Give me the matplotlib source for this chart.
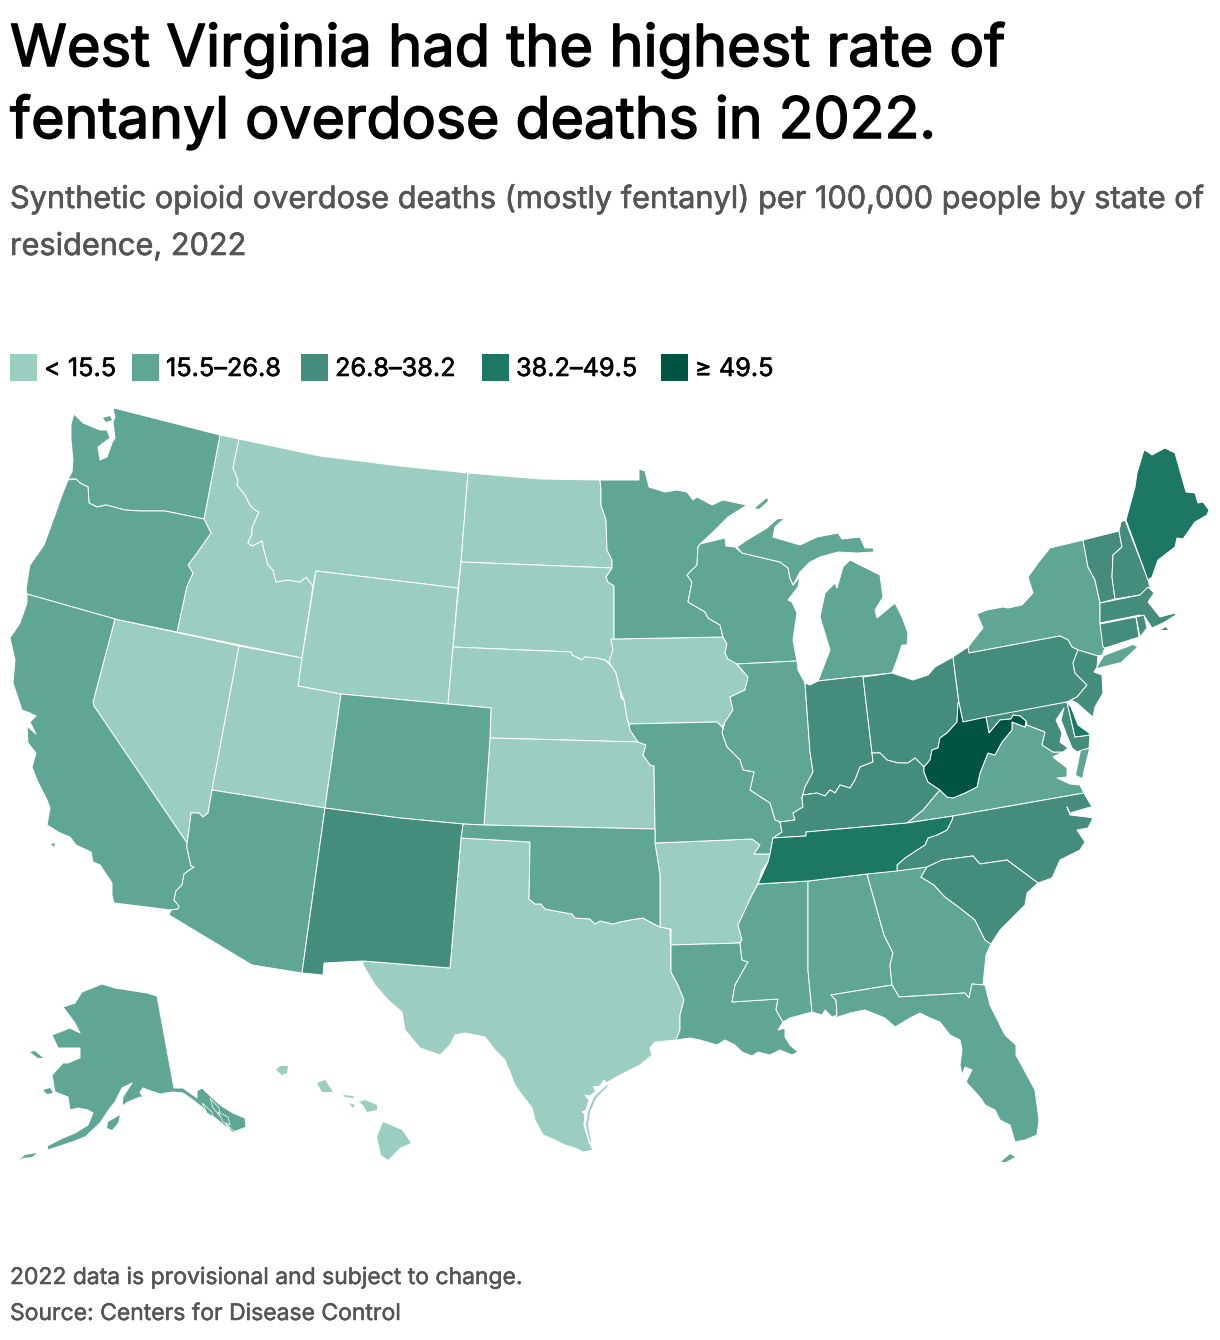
import matplotlib
matplotlib.use('Agg')
import matplotlib.pyplot as plt
import matplotlib.patheffects as pe
from matplotlib.patches import Polygon, Rectangle

# Rate classes
bin_labels = ['< 15.5', '15.5–26.8', '26.8–38.2', '38.2–49.5', '≥ 49.5']
bin_colors = ['#9BCDC0', '#5FA695', '#448C7C', '#1C7862', '#005542']

states_bin0 = ['ID', 'MT', 'ND', 'SD', 'WY', 'NV', 'UT', 'NE', 'KS', 'IA', 'TX', 'AR', 'HI']
states_bin1 = ['WA', 'OR', 'CA', 'AZ', 'CO', 'MN', 'WI', 'MI', 'IL', 'MO', 'OK', 'LA', 'MS',
               'AL', 'GA', 'FL', 'VA', 'NY', 'AK']
states_bin2 = ['NM', 'IN', 'OH', 'KY', 'PA', 'NJ', 'MD', 'NC', 'SC', 'VT', 'NH', 'MA', 'CT', 'RI']
states_bin3 = ['ME', 'TN', 'DE']
states_bin4 = ['WV']

# Outlines (pixel space of the figure)
# first ring of a state gets the white border, later rings are small islands
SHAPES = {
    'WA': [[(114,408),(220,435),(204,519),(165,511),(140,511),(125,510),(106,505),(97,507),(89,503),(88,487),(80,483),(76,479),(68,479),(72,472),(73,460),(71,440),(71,424),(74,414),(83,423),(100,430),(107,430),(110,438),(98,447),(100,460),(107,457),(112,443),(115,438),(113,422),(115,417),(113,409)],
           [(103,418),(110,416),(112,420),(106,422)]],
    'OR': [[(68,480),(76,479),(80,483),(88,487),(89,503),(97,507),(106,505),(125,510),(140,511),(165,511),(204,519),(211,533),(197,553),(188,565),(193,573),(187,586),(177,632),(115,619),(27,594),(26,590),(29,570),(30,565),(44,545),(55,515),(62,495),(66,485)]],
    'CA': [[(27,594),(115,619),(93,702),(94,706),(187,843),(187,848),(191,866),(194,867),(184,874),(182,885),(176,891),(174,900),(179,906),(178,909),(171,910),(114,903),(112,895),(112,883),(100,865),(93,862),(91,852),(76,845),(70,837),(60,833),(47,825),(50,808),(47,800),(37,780),(32,767),(36,753),(28,743),(27,726),(36,734),(30,722),(36,716),(30,713),(22,710),(13,683),(15,660),(10,638),(20,623),(27,603)],
           [(51,844),(55,843),(54,847)]],
    'NV': [[(115,619),(239,646),(212,790),(208,813),(203,817),(199,813),(191,813),(189,830),(187,843),(94,706),(93,702)]],
    'UT': [[(239,646),(302,658),(298,686),(341,694),(325,808),(212,790)]],
    'AZ': [[(212,790),(325,808),(302,973),(252,965),(169,915),(171,910),(178,909),(179,906),(174,900),(176,891),(182,885),(184,874),(194,867),(191,866),(187,848),(187,843),(189,830),(191,813),(199,813),(203,817),(208,813)]],
    'ID': [[(220,435),(239,439),(233,468),(238,480),(237,485),(245,495),(250,505),(255,510),(259,512),(252,528),(252,534),(248,543),(252,546),(262,541),(264,550),(268,565),(273,570),(276,582),(288,580),(300,582),(306,577),(313,586),(302,658),(177,632),(187,586),(193,573),(188,565),(197,553),(211,533),(204,519)]],
    'MT': [[(239,439),(320,456),(400,466),(468,473),(461,562),(458,588),(316,571),(313,586),(306,577),(300,582),(288,580),(276,582),(273,570),(268,565),(264,550),(262,541),(252,546),(248,543),(252,534),(252,528),(259,512),(255,510),(250,505),(245,495),(237,485),(238,480),(233,468)]],
    'WY': [[(316,571),(458,588),(453,647),(448,704),(341,694),(298,686),(302,658)]],
    'CO': [[(341,694),(448,704),(491,708),(490,738),(484,825),(463,824),(400,818),(325,808)]],
    'NM': [[(325,808),(400,818),(463,824),(461,838),(450,968),(363,961),(324,963),(323,975),(302,973)]],
    'ND': [[(468,473),(540,479),(600,480),(601,490),(601,505),(606,520),(607,550),(612,560),(612,568),(461,562)]],
    'SD': [[(461,562),(612,568),(606,577),(608,582),(614,586),(614,639),(611,640),(613,650),(610,660),(613,665),(605,660),(597,658),(585,657),(582,660),(572,655),(571,652),(453,647)]],
    'NE': [[(453,647),(571,652),(572,655),(582,660),(585,657),(597,658),(605,660),(613,668),(616,673),(620,690),(621,698),(624,700),(627,718),(630,730),(638,742),(490,738),(491,708),(448,704)]],
    'KS': [[(490,738),(638,742),(646,745),(643,755),(650,765),(654,766),(655,829),(484,825)]],
    'OK': [[(463,824),(484,825),(655,829),(655,843),(660,875),(660,927),(650,922),(643,918),(630,920),(620,922),(613,924),(600,921),(595,924),(590,919),(575,918),(572,914),(555,911),(545,909),(541,904),(535,904),(529,899),(530,842),(461,838)]],
    'TX': [[(461,838),(530,842),(529,899),(535,904),(541,904),(545,909),(555,911),(572,914),(575,918),(590,919),(595,924),(600,921),(613,924),(620,922),(630,920),(643,918),(650,922),(660,927),(670,929),(671,972),(678,985),(684,1000),(680,1015),(680,1030),(676,1040),(655,1042),(650,1048),(652,1055),(640,1065),(620,1075),(606,1083),(604,1080),(600,1086),(593,1087),(596,1091),(590,1096),(585,1095),(589,1100),(586,1110),(582,1112),(585,1114),(584,1125),(589,1142),(593,1150),(583,1152),(575,1148),(565,1145),(555,1140),(543,1135),(535,1120),(532,1108),(522,1095),(515,1085),(505,1060),(495,1050),(485,1037),(465,1033),(455,1035),(450,1045),(440,1055),(420,1048),(405,1030),(402,1012),(388,1000),(375,985),(363,965),(363,961),(450,968)],
           [(607,1085),(594,1097),(588,1112),(586,1125),(590,1142),(591,1142),(588,1125),(590,1112),(596,1098),(608,1086)]],
    'AR': [[(655,843),(752,839),(760,845),(754,854),(770,854),(768,862),(762,870),(758,884),(752,895),(745,910),(738,925),(742,940),(740,943),(671,945),(671,929),(660,927),(660,875)]],
    'LA': [[(671,945),(740,943),(742,960),(748,962),(735,985),(732,1002),(778,999),(776,1010),(783,1022),(778,1030),(785,1028),(785,1037),(790,1045),(798,1052),(792,1055),(780,1050),(770,1055),(758,1052),(752,1056),(742,1052),(735,1045),(725,1040),(717,1045),(700,1040),(690,1038),(676,1040),(680,1030),(680,1015),(684,1000),(678,985),(671,972)]],
    'MS': [[(758,884),(808,881),(808,970),(812,1012),(790,1018),(783,1022),(776,1010),(778,999),(732,1002),(735,985),(748,962),(742,960),(740,943),(742,940),(738,925),(745,910),(752,895)]],
    'AL': [[(808,881),(867,874),(884,935),(893,953),(890,965),(892,985),(831,995),(836,1000),(837,1015),(832,1017),(825,1010),(822,1015),(812,1012),(808,970)]],
    'GA': [[(867,874),(927,867),(921,877),(934,885),(945,897),(960,908),(975,920),(985,940),(991,944),(986,955),(985,965),(983,985),(972,984),(969,998),(965,993),(899,997),(892,985),(890,965),(893,953),(884,935)]],
    'FL': [[(831,995),(892,985),(899,997),(965,993),(969,998),(972,984),(985,985),(990,1005),(1005,1035),(1016,1045),(1016,1055),(1035,1090),(1039,1120),(1037,1135),(1025,1140),(1015,1142),(1010,1125),(1000,1120),(995,1110),(985,1105),(982,1100),(978,1095),(966,1082),(972,1070),(965,1067),(962,1075),(960,1065),(962,1050),(960,1040),(950,1035),(940,1022),(930,1018),(920,1013),(910,1018),(895,1027),(885,1018),(865,1010),(850,1013),(835,1018),(837,1015),(836,1000)],
           [(1001,1162),(1010,1154),(1015,1157),(1006,1162)]],
    'SC': [[(927,867),(942,860),(973,856),(980,864),(1007,860),(1038,883),(1027,893),(1025,905),(1010,920),(1000,930),(991,944),(985,940),(975,920),(960,908),(945,897),(934,885),(921,877)]],
    'NC': [[(1084,793),(1092,807),(1087,808),(1070,813),(1067,807),(1070,815),(1087,817),(1093,818),(1088,828),(1077,830),(1085,842),(1080,850),(1060,860),(1052,878),(1038,883),(1007,860),(980,864),(973,856),(942,860),(927,867),(897,871),(897,865),(905,858),(917,850),(925,845),(928,838),(937,835),(947,830),(952,820),(953,816)]],
    'VA': [[(1084,793),(953,816),(907,823),(923,810),(938,792),(940,790),(947,797),(953,798),(965,793),(977,787),(980,773),(988,753),(995,755),(1002,742),(1012,730),(1012,722),(1025,727),(1027,725),(1045,732),(1042,745),(1053,752),(1063,752),(1053,757),(1067,768),(1067,777),(1057,778),(1070,784),(1080,785)],
           [(1089,749),(1081,750),(1076,775),(1082,778),(1085,765)]],
    'WV': [[(959,703),(963,722),(986,717),(989,733),(1000,720),(1011,719),(1013,715),(1020,716),(1026,721),(1025,727),(1012,722),(1012,730),(1002,742),(995,755),(988,753),(980,773),(977,787),(965,793),(953,798),(947,797),(940,790),(928,782),(924,772),(924,767),(930,760),(932,750),(938,748),(940,738),(947,733),(957,722),(958,703)]],
    'MD': [[(986,717),(1067,702),(1075,737),(1090,735),(1089,748),(1082,750),(1077,752),(1072,748),(1066,733),(1061,720),(1064,708),(1056,720),(1062,733),(1060,742),(1068,748),(1063,752),(1053,752),(1042,745),(1045,732),(1027,725),(1026,721),(1020,716),(1013,715),(1011,719),(1000,720),(989,733)]],
    'DE': [[(1067,702),(1071,707),(1078,725),(1089,733),(1090,735),(1075,737)]],
    'PA': [[(953,657),(968,647),(969,653),(1060,636),(1068,640),(1072,647),(1078,650),(1073,663),(1075,673),(1087,685),(1077,697),(1067,702),(963,722),(959,703)]],
    'NJ': [[(1078,650),(1098,656),(1097,667),(1094,672),(1102,675),(1103,693),(1095,707),(1093,717),(1087,712),(1077,703),(1071,700),(1077,697),(1087,685),(1075,673),(1073,663)]],
    'NY': [[(1050,548),(1083,540),(1088,567),(1095,580),(1100,603),(1100,623),(1105,648),(1102,655),(1098,656),(1078,650),(1072,647),(1068,640),(1060,636),(969,653),(968,647),(983,628),(977,614),(987,610),(1003,607),(1008,608),(1022,605),(1033,593),(1028,577),(1038,563)],
           [(1097,668),(1104,656),(1133,645),(1137,647),(1121,662)]],
    'VT': [[(1083,540),(1119,531),(1122,547),(1113,555),(1112,577),(1115,599),(1100,603),(1095,580),(1088,567)]],
    'NH': [[(1119,531),(1121,522),(1125,520),(1148,580),(1150,587),(1140,595),(1115,599),(1112,577),(1113,555),(1122,547)]],
    'ME': [[(1126,520),(1135,487),(1137,473),(1144,450),(1148,452),(1152,455),(1165,448),(1175,453),(1186,492),(1195,493),(1198,503),(1203,502),(1209,510),(1207,515),(1195,522),(1183,539),(1177,538),(1175,547),(1158,560),(1152,577),(1148,580)]],
    'MA': [[(1100,603),(1140,595),(1148,587),(1154,593),(1148,602),(1160,617),(1175,613),(1176,615),(1163,623),(1152,628),(1145,617),(1140,615),(1100,623)],
           [(1161,630),(1166,627),(1168,630)]],
    'RI': [[(1136,617),(1144,615),(1147,628),(1140,637)]],
    'CT': [[(1100,624),(1136,617),(1139,637),(1105,648),(1103,647)]],
    'OH': [[(863,677),(892,673),(913,680),(928,675),(935,667),(953,657),(959,703),(958,703),(957,722),(947,733),(940,738),(938,748),(932,750),(930,760),(924,767),(915,758),(908,763),(898,763),(887,760),(880,753),(872,753)]],
    'IN': [[(805,683),(810,685),(818,681),(863,676),(872,753),(873,762),(860,767),(855,780),(850,788),(840,785),(835,793),(830,790),(825,796),(817,793),(803,795),(802,798),(805,787),(813,772),(810,752)]],
    'IL': [[(737,664),(797,661),(798,670),(805,683),(810,752),(813,772),(805,787),(802,798),(803,807),(793,813),(795,820),(780,822),(775,820),(770,803),(762,798),(750,790),(754,772),(743,770),(740,760),(727,747),(722,733),(725,722),(733,710),(730,697),(745,690),(748,677)]],
    'KY': [[(773,838),(806,836),(806,832),(907,823),(923,810),(938,792),(940,790),(928,782),(924,772),(924,767),(915,758),(908,763),(898,763),(887,760),(880,753),(872,753),(873,762),(860,767),(855,780),(850,788),(840,785),(835,793),(830,790),(825,796),(817,793),(803,795),(802,798),(803,807),(793,813),(795,820),(780,822),(782,832)]],
    'MO': [[(629,724),(717,722),(723,728),(722,733),(727,747),(740,760),(743,770),(754,772),(750,790),(762,798),(770,803),(775,820),(780,822),(782,832),(773,838),(770,854),(754,854),(760,845),(752,839),(655,843),(655,829),(654,766),(650,765),(643,755),(646,745),(638,742),(630,730)]],
    'IA': [[(611,639),(723,637),(727,644),(725,653),(728,659),(735,662),(748,677),(745,690),(730,697),(733,710),(725,722),(722,727),(717,722),(629,724),(627,718),(624,700),(620,690),(616,673),(609,662),(613,650)]],
    'MN': [[(600,480),(639,480),(639,469),(645,471),(649,487),(665,492),(677,490),(687,492),(693,500),(697,497),(712,505),(723,500),(737,503),(747,505),(728,517),(713,532),(700,544),(698,547),(697,565),(687,575),(692,582),(688,602),(705,612),(708,618),(720,625),(723,637),(614,639),(614,586),(608,582),(606,577),(612,568),(612,560),(607,550),(606,520),(601,505),(601,490)],
           [(755,508),(767,498),(768,501),(759,509)]],
    'WI': [[(700,544),(725,538),(726,546),(735,547),(742,553),(780,562),(788,568),(790,578),(793,585),(800,577),(798,587),(788,600),(792,602),(797,613),(793,640),(797,661),(737,664),(728,659),(725,653),(727,644),(723,637),(720,625),(708,618),(705,612),(688,602),(692,582),(687,575),(697,565),(698,547)]],
    'MI': [[(773,537),(775,527),(785,518),(777,519),(767,528),(747,540),(737,547),(742,553),(780,562),(788,568),(790,578),(793,585),(800,572),(810,562),(820,557),(838,552),(857,553),(874,552),(873,548),(865,548),(860,537),(842,539),(838,533),(817,537),(800,545)],
           [(850,560),(880,575),(883,597),(875,610),(877,618),(895,603),(902,617),(908,633),(907,645),(902,645),(897,660),(892,673),(863,676),(818,681),(830,650),(820,617),(825,593),(835,583),(837,588),(843,567)]],
    'TN': [[(773,838),(806,836),(806,832),(907,823),(953,816),(952,820),(947,830),(937,835),(928,838),(925,845),(917,850),(905,858),(897,865),(897,871),(867,874),(808,881),(758,884),(768,862),(770,854)]],
    'AK': [[(157,996),(174,1088),(183,1088),(197,1098),(197,1091),(202,1088),(220,1105),(233,1113),(245,1118),(246,1127),(244,1128),(233,1132),(220,1122),(203,1108),(193,1100),(183,1093),(173,1092),(160,1094),(148,1090),(143,1088),(140,1092),(143,1098),(140,1097),(128,1102),(122,1106),(123,1097),(132,1083),(122,1088),(115,1102),(110,1108),(100,1123),(85,1137),(72,1142),(57,1147),(48,1150),(47,1146),(63,1138),(75,1133),(88,1125),(93,1113),(88,1110),(78,1108),(70,1110),(68,1097),(55,1092),(52,1075),(63,1063),(68,1063),(80,1058),(80,1048),(58,1048),(52,1035),(70,1028),(80,1033),(75,1023),(63,1007),(75,1003),(82,992),(102,984),(115,988),(147,993)],
           [(107,1128),(108,1122),(120,1115),(118,1123),(112,1130)],
           [(19,1160),(25,1155),(37,1153),(32,1157),(23,1158)],
           [(30,1052),(35,1051),(43,1058),(38,1058)],
           [(43,1090),(50,1088),(53,1093),(47,1094)]],
    'HI': [[(276,1070),(280,1066),(288,1066),(287,1073),(282,1075)],
           [(317,1083),(325,1080),(333,1092),(322,1092)],
           [(343,1095),(353,1096),(354,1098),(345,1097)],
           [(349,1103),(355,1105),(353,1108)],
           [(359,1102),(365,1100),(377,1105),(377,1110),(367,1112),(363,1105)],
           [(383,1122),(402,1130),(411,1143),(400,1148),(388,1160),(381,1155),(377,1137)]],
}

# Alexander Archipelago, drawn over the Alaska panhandle so the fjords show white
AK_FJORD_ISLANDS = [[(202,1103),(212,1112),(213,1117),(207,1113)],
                    [(210,1098),(219,1108),(220,1116),(213,1108)],
                    [(218,1112),(228,1117),(230,1125),(223,1122)],
                    [(225,1123),(235,1132),(232,1132)]]

plt.rcParams['font.family'] = ['Inter', 'DejaVu Sans']

fig = plt.figure(figsize=(12.2, 13.4), dpi=100)
ax = fig.add_axes([0, 0, 1, 1])
ax.set_xlim(0, 1220)
ax.set_ylim(1340, 0)
ax.axis('off')

# Map
all_bins = [states_bin0, states_bin1, states_bin2, states_bin3, states_bin4]
for color, states in zip(bin_colors, all_bins):
    for st in states:
        for i, ring in enumerate(SHAPES[st]):
            has_edge = (i == 0 and st != 'HI') or st == 'MI'
            ax.add_patch(Polygon(ring, closed=True, facecolor=color,
                                 edgecolor='white' if has_edge else 'none',
                                 linewidth=0.7, joinstyle='round'))

ak_color = bin_colors[1]
for ring in AK_FJORD_ISLANDS:
    ax.add_patch(Polygon(ring, closed=True, facecolor=ak_color, edgecolor='white', linewidth=0.5))

# Title block, Inter only has one weight here so fatten it with a stroke
title_fx = [pe.withStroke(linewidth=1.1, foreground='black')]
sub_fx = [pe.withStroke(linewidth=0.45, foreground='#555555')]
small_fx = [pe.withStroke(linewidth=0.35, foreground='#555555')]
legend_fx = [pe.withStroke(linewidth=0.4, foreground='black')]

ax.text(10, 66, 'West Virginia had the highest rate of', fontsize=41.6, color='black', path_effects=title_fx)
ax.text(10, 138, 'fentanyl overdose deaths in 2022.', fontsize=41.2, color='black', path_effects=title_fx)
ax.text(10, 208, 'Synthetic opioid overdose deaths (mostly fentanyl) per 100,000 people by state of',
        fontsize=22.1, color='#555555', path_effects=sub_fx)
ax.text(10, 255, 'residence, 2022', fontsize=22.1, color='#555555', path_effects=sub_fx)

# Legend
swatch_x = [10, 132, 301, 482, 661]
for x, color, label in zip(swatch_x, bin_colors, bin_labels):
    ax.add_patch(Rectangle((x, 354), 27, 27, facecolor=color, edgecolor='none'))
    ax.text(x + 34, 376, label, fontsize=18.2, color='black', path_effects=legend_fx)

# Footer
ax.text(10, 1284, '2022 data is provisional and subject to change.', fontsize=16.5, color='#555555', path_effects=small_fx)
ax.text(10, 1320, 'Source: Centers for Disease Control', fontsize=16.5, color='#555555', path_effects=small_fx)

plt.savefig('out.png', dpi=100)
plt.close()
